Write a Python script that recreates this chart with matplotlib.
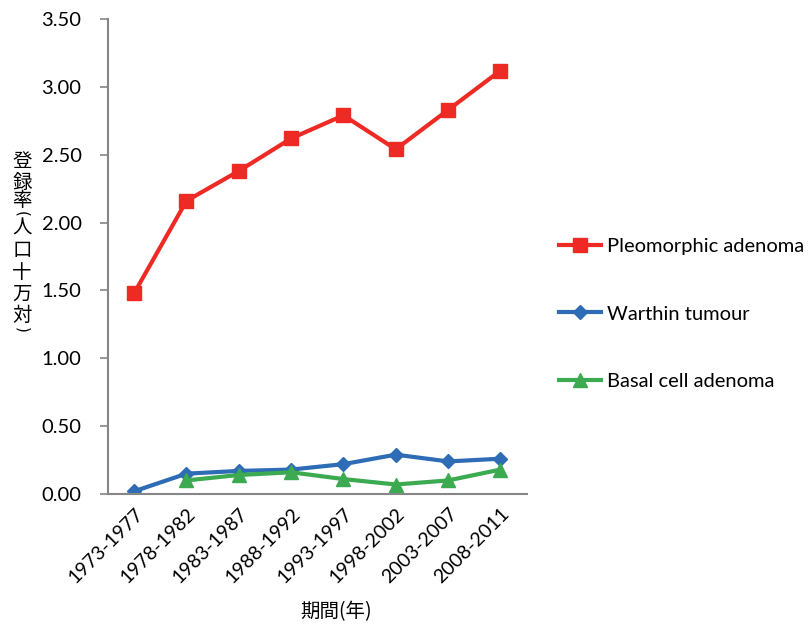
import matplotlib
matplotlib.use("Agg")
import matplotlib.pyplot as plt
import numpy as np

plt.rcParams['font.family'] = ['Lato', 'Noto Sans CJK JP', 'DejaVu Sans']

periods = ["1973-1977", "1978-1982", "1983-1987", "1988-1992",
           "1993-1997", "1998-2002", "2003-2007", "2008-2011"]
pleomorphic = [1.48, 2.16, 2.38, 2.62, 2.79, 2.54, 2.83, 3.12]
warthin = [0.02, 0.15, 0.17, 0.18, 0.22, 0.29, 0.24, 0.26]
basal = [np.nan, 0.10, 0.14, 0.16, 0.11, 0.07, 0.10, 0.18]
yticks = [0.0, 0.5, 1.0, 1.5, 2.0, 2.5, 3.0, 3.5]

fig = plt.figure(figsize=(8.12, 6.31), dpi=100)
ax = fig.add_axes([108/812, 1-494/631, 418.6/812, 475/631])

x = np.arange(len(periods))
ax.plot(x, pleomorphic, color='#EE2A24', lw=3, marker='s', ms=10, label='Pleomorphic adenoma')
ax.plot(x, warthin, color='#2E6DB6', lw=3, marker='D', ms=7, label='Warthin tumour')
ax.plot(x, basal, color='#3BAA51', lw=3, marker='^', ms=10, label='Basal cell adenoma')

ax.set_xlim(-0.5, 7.5)
ax.set_ylim(0, 3.5)
ax.set_yticks(yticks)
ax.set_yticklabels([f"{v:.2f}" for v in yticks], fontsize=14.5)
ax.set_xticks(x)
ax.set_xticklabels(periods, rotation=45, ha='right', rotation_mode='anchor', fontsize=14)
ax.tick_params(axis='x', length=0, pad=8)
ax.tick_params(axis='y', length=6, width=1.2, color='#868686', pad=13)

for s in ['top', 'right']:
    ax.spines[s].set_visible(False)
for s in ['left', 'bottom']:
    ax.spines[s].set_color('#868686')
    ax.spines[s].set_linewidth(1.5)

# vertical y-axis label, one character per line
cjk = ['Noto Sans CJK JP', 'DejaVu Sans']
label_chars = [("登", 161, 0), ("録", 182, 0), ("率", 200, 0), ("(", 214, 270),
               ("人", 228, 0), ("口", 250, 0), ("十", 272, 0), ("万", 294, 0),
               ("対", 315, 0), (")", 330, 270)]
for ch, py, rot in label_chars:
    if rot:
        fig.text(22/812, 1-py/631, ch, fontsize=11, ha='center', va='center',
                 rotation=rot, family=['DejaVu Sans'])
    else:
        fig.text(22/812, 1-py/631, ch, fontsize=14, ha='center', va='center', family=cjk)

fig.text(336/812, 1-612/631, "期間(年)", fontsize=14, ha='center', va='center', family=cjk)

fig.legend(loc='upper left', bbox_to_anchor=(559/812, 1-238/631), frameon=False,
           fontsize=14.5, labelspacing=2.5, handlelength=2.1, handletextpad=0.3,
           borderpad=0, borderaxespad=0)

fig.savefig("out.png", dpi=100)
